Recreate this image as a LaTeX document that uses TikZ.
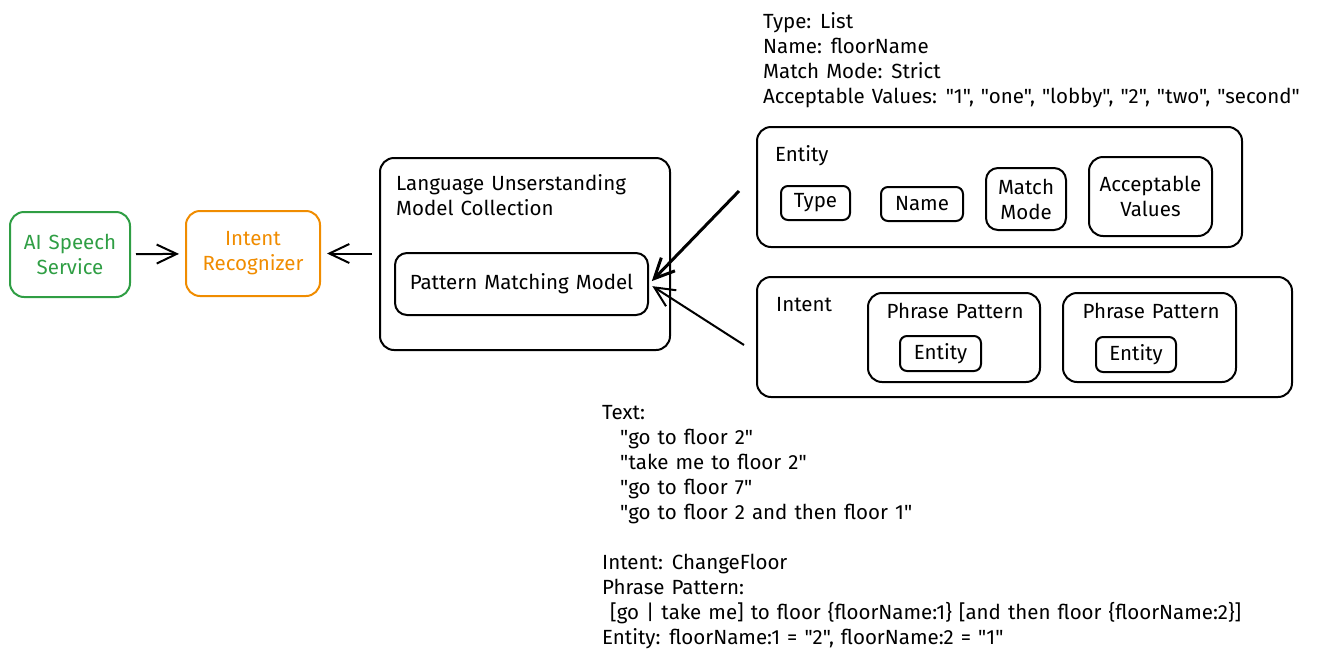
\documentclass[tikz,border=0pt]{standalone}
\usepackage{fontspec}
\setmainfont{Fira Sans}[Ligatures=TeXOff,WordSpace=1.3]
\usetikzlibrary{arrows.meta,positioning}
\definecolor{speechgreen}{HTML}{2F9E44}
\definecolor{recorange}{HTML}{F08C00}
\tikzset{
  box/.style={draw, line width=2pt, rounded corners=14pt, align=center, inner sep=0pt},
  smallbox/.style={draw, line width=2pt, rounded corners=7pt, align=center, inner sep=0pt},
  arr/.style={-{Straight Barb[length=20pt,width=19pt]}, line width=2pt},
  notes/.style={anchor=north west, align=left, inner sep=0pt},
}
\begin{document}
\begin{tikzpicture}[x=1pt,y=-1pt,every node/.style={font=\fontsize{20.5}{25}\selectfont}]
  \useasboundingbox (0,0) rectangle (1317,662);
  % left chain
  \node[box,draw=speechgreen,text=speechgreen,minimum width=120pt,minimum height=85pt] (ai) at (70,254.5) {AI Speech\\Service};
  \node[box,draw=recorange,text=recorange,minimum width=134pt,minimum height=85pt] (rec) at (253,253.5) {Intent\\Recognizer};
  \node[box,minimum width=290pt,minimum height=192pt] (lumc) at (525,254) {};
  \node[anchor=west,align=left,inner sep=0pt] (lumclbl) at (396,195) {Language Unserstanding\\Model Collection};
  \node[smallbox,rounded corners=12pt,minimum width=253pt,minimum height=62pt] (pmm) at (521.5,284) {Pattern Matching Model};
  % entity
  \node[box,minimum width=485pt,minimum height=120pt] (ent) at (999.5,187) {};
  \node[anchor=west,inner sep=0pt] (entlbl) at (775,156) {Entity};
  \node[smallbox,minimum width=69pt,minimum height=34pt] (type) at (815.5,203) {Type};
  \node[smallbox,minimum width=82pt,minimum height=34pt] (name) at (922,204) {Name};
  \node[smallbox,rounded corners=12pt,minimum width=80pt,minimum height=62pt] (mm) at (1026,199) {Match\\Mode};
  \node[smallbox,rounded corners=14pt,minimum width=123pt,minimum height=79pt] (av) at (1150.5,196.5) {Acceptable\\Values};
  % intent
  \node[box,minimum width=535pt,minimum height=120pt] (int) at (1024.5,337) {};
  \node[anchor=west,inner sep=0pt] (intlbl) at (776,305) {Intent};
  \node[smallbox,rounded corners=14pt,minimum width=172pt,minimum height=89pt] (pp1) at (954,337.5) {};
  \node (pp1lbl) at (955,311) {Phrase Pattern};
  \node[smallbox,minimum width=81pt,minimum height=35pt] (pp1e) at (940.5,353.5) {Entity};
  \node[smallbox,rounded corners=14pt,minimum width=173pt,minimum height=89pt] (pp2) at (1149.5,337.5) {};
  \node (pp2lbl) at (1151,311) {Phrase Pattern};
  \node[smallbox,minimum width=80pt,minimum height=35pt] (pp2e) at (1136,354.5) {Entity};
  % notes
  \node[notes] (entnote) at (763,12) {Type: List\\Name: floorName\\Match Mode: Strict\\Acceptable Values: "1", "one", "lobby", "2", "two", "second"};
  \node[notes] (textnote) at (602,405) {Text:\\
    \hspace*{18pt}"go to floor 2"\\
    \hspace*{18pt}"take me to floor 2"\\
    \hspace*{18pt}"go to floor 7"\\
    \hspace*{18pt}"go to floor 2 and then floor 1"\\[25pt]
    Intent: ChangeFloor\\
    Phrase Pattern:\\
    \hspace*{8pt}[go | take me] to floor \{floorName:1\} [and then floor \{floorName:2\}]\\
    Entity: floorName:1 = "2", floorName:2 = "1"};
  % connectors
  \draw[arr,shorten <=5pt,shorten >=6pt] (ai) -- (rec);
  \draw[arr,shorten <=7pt,shorten >=6pt] (lumc.west |- rec) -- (rec);
  \coordinate (entout) at ([shift={(-17,4)}]ent.west);
  \coordinate (intout) at ([shift={(-12,8)}]int.west);
  \draw[arr,line width=3pt,shorten >=4pt] (entout) -- (pmm.east);
  \draw[arr,shorten >=4pt] (intout) -- (pmm.east);
\end{tikzpicture}
\end{document}
